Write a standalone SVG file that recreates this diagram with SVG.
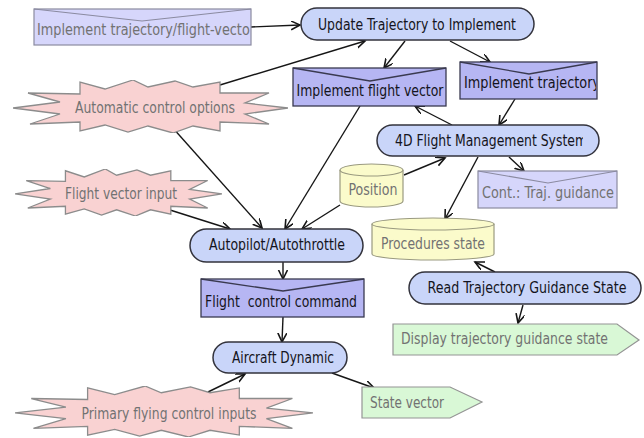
<svg xmlns="http://www.w3.org/2000/svg" xmlns:xlink="http://www.w3.org/1999/xlink" width="644" height="438" viewBox="0 0 644 438">
<style>
text{font-family:"DejaVu Sans Condensed","DejaVu Sans","Liberation Sans",sans-serif;font-size:15px;}
.dark{fill:#141420;}
.gray{fill:#727272;}
.mid{text-anchor:middle;}
.stad{fill:#c9d5f9;stroke:#33333c;stroke-width:1.5;}
.env1{fill:#d6d6fb;stroke:#8a8aa0;stroke-width:1.2;}
.env2{fill:#b6b6f3;stroke:#3a3a50;stroke-width:1.3;}
.vline1{fill:none;stroke:#8a8aa0;stroke-width:1.2;}
.vline2{fill:none;stroke:#3a3a50;stroke-width:1.3;}
.cyl{fill:#fbfbcb;stroke:#9a9a80;stroke-width:1.2;}
.burst{fill:#f9d2d2;stroke:#8c8c8c;}
.pent{fill:#d9f8d6;stroke:#949494;stroke-width:1.2;}
.conn path{fill:none;stroke:#161616;stroke-width:1.4;marker-end:url(#arr);}
</style>
<defs>
<marker id="arr" markerUnits="userSpaceOnUse" markerWidth="12" markerHeight="12" refX="9" refY="4.5" orient="auto">
<path d="M0,0 L9,4.5 L0,9" fill="none" stroke="#161616" stroke-width="1.6"/>
</marker>
<symbol id="burst" viewBox="0 0 275 53" preserveAspectRatio="none">
<polygon vector-effect="non-scaling-stroke" stroke-width="1.3" points="0,28 47,22 15,13 67,14 67,2 92,9 120,0 135,7 162,1 180,7 207,2 207,13 256,13 232,23 275,28 232,34 256,44 207,42 207,51 180,46 160,53 135,46 115,52 92,45 67,51 67,42 17,44 47,34"/>
</symbol>
<clipPath id="c1"><rect x="34" y="9" width="216" height="36"/></clipPath>
<clipPath id="c2"><rect x="460" y="62" width="136" height="37"/></clipPath>
<clipPath id="c3"><rect x="377" y="125" width="206" height="31"/></clipPath>
</defs>

<g id="connectors" class="conn">
<path d="M251,27 L300,25"/>
<path d="M220,85 L365,41"/>
<path d="M405,41 L384,68"/>
<path d="M450,41 L490,62"/>
<path d="M515,99 L499,125"/>
<path d="M452,125 L415,106"/>
<path d="M404,175 L445,158"/>
<path d="M509,157 L524,171"/>
<path d="M478,157 L445,219"/>
<path d="M495,272 L475,262"/>
<path d="M523,305 L518,323"/>
<path d="M360,106 L285,229"/>
<path d="M172,127 L262,228"/>
<path d="M170,210 L230,229"/>
<path d="M340,205 L302,229"/>
<path d="M283,262 L283,279"/>
<path d="M283,317 L282,342"/>
<path d="M208,392 L245,374"/>
<path d="M332,373 L374,388"/>
</g>

<g id="implement-traj-fv">
<rect class="env1" x="34" y="9" width="217" height="36"/>
<polyline class="vline1" points="34,9 142,21 251,9"/>
<text class="gray" x="37" y="35" textLength="218" lengthAdjust="spacingAndGlyphs" clip-path="url(#c1)">Implement trajectory/flight-vector</text>
</g>

<g id="update-trajectory">
<rect class="stad" x="301" y="8" width="233" height="32" rx="16"/>
<text class="dark mid" x="417" y="30" textLength="198" lengthAdjust="spacingAndGlyphs">Update Trajectory to Implement</text>
</g>

<g id="automatic-control">
<use xlink:href="#burst" class="burst" x="13" y="80" width="275" height="53"/>
<text class="gray mid" x="155" y="113" textLength="160" lengthAdjust="spacingAndGlyphs">Automatic control options</text>
</g>

<g id="implement-flight-vector">
<rect class="env2" x="293" y="68" width="153" height="38"/>
<polyline class="vline2" points="293,68 370,81 446,68"/>
<text class="dark mid" x="370" y="96" textLength="147" lengthAdjust="spacingAndGlyphs">Implement flight vector</text>
</g>

<g id="implement-trajectory">
<rect class="env2" x="460" y="62" width="137" height="37"/>
<polyline class="vline2" points="460,62 529,74 597,62"/>
<text class="dark" x="464" y="88" textLength="136" lengthAdjust="spacingAndGlyphs" clip-path="url(#c2)">Implement trajectory</text>
</g>

<g id="fms">
<rect class="stad" x="377" y="125" width="222" height="31" rx="15.5"/>
<text class="dark" x="395" y="146" textLength="192" lengthAdjust="spacingAndGlyphs" clip-path="url(#c3)">4D Flight Management System</text>
</g>

<g id="flight-vector-input">
<use xlink:href="#burst" class="burst" x="15" y="169" width="207" height="47"/>
<text class="gray mid" x="121" y="199" textLength="112" lengthAdjust="spacingAndGlyphs">Flight vector input</text>
</g>

<g id="position">
<path class="cyl" d="M340,170 A31.5,6 0 0 1 403,170 L403,201 A31.5,6 0 0 1 340,201 Z"/>
<path class="cyl" fill="none" d="M340,170 A31.5,6 0 0 0 403,170"/>
<text class="gray mid" x="373" y="195" textLength="49" lengthAdjust="spacingAndGlyphs">Position</text>
</g>

<g id="cont-traj-guidance">
<rect class="env1" x="478" y="171" width="139" height="37"/>
<polyline class="vline1" points="478,171 548,183 617,171"/>
<text class="gray mid" x="548" y="198" textLength="132" lengthAdjust="spacingAndGlyphs">Cont.: Traj. guidance</text>
</g>

<g id="procedures-state">
<path class="cyl" d="M372,224 A61,6 0 0 1 494,224 L494,254 A61,6 0 0 1 372,254 Z"/>
<path class="cyl" fill="none" d="M372,224 A61,6 0 0 0 494,224"/>
<text class="gray mid" x="433" y="249" textLength="104" lengthAdjust="spacingAndGlyphs">Procedures state</text>
</g>

<g id="autopilot">
<rect class="stad" x="190" y="229" width="173" height="33" rx="16.5"/>
<text class="dark mid" x="277" y="250" textLength="136" lengthAdjust="spacingAndGlyphs">Autopilot/Autothrottle</text>
</g>

<g id="read-trajectory">
<rect class="stad" x="409" y="272" width="232" height="32" rx="16"/>
<text class="dark mid" x="527" y="293" textLength="199" lengthAdjust="spacingAndGlyphs">Read Trajectory Guidance State</text>
</g>

<g id="flight-control-command">
<rect class="env2" x="201" y="279" width="163" height="38"/>
<polyline class="vline2" points="201,279 283,291 364,279"/>
<text class="dark mid" x="281" y="307" textLength="152" lengthAdjust="spacingAndGlyphs" xml:space="preserve">Flight  control command</text>
</g>

<g id="display-traj">
<path class="pent" d="M393,324 L617,324 L639,340 L617,355 L393,355 Z"/>
<text class="gray" x="401" y="344" textLength="207" lengthAdjust="spacingAndGlyphs">Display trajectory guidance state</text>
</g>

<g id="aircraft-dynamic">
<rect class="stad" x="213" y="342" width="134" height="31" rx="15.5"/>
<text class="dark mid" x="283" y="363" textLength="102" lengthAdjust="spacingAndGlyphs">Aircraft Dynamic</text>
</g>

<g id="primary-flying">
<use xlink:href="#burst" class="burst" x="15" y="386" width="298" height="51"/>
<text class="gray mid" x="169" y="419" textLength="175" lengthAdjust="spacingAndGlyphs">Primary flying control inputs</text>
</g>

<g id="state-vector">
<path class="pent" d="M362,387 L450,387 L482,402 L450,418 L362,418 Z"/>
<text class="gray" x="370" y="408" textLength="74" lengthAdjust="spacingAndGlyphs">State vector</text>
</g>
</svg>
